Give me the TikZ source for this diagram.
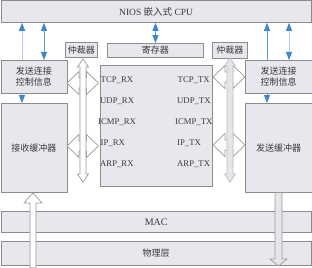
\documentclass[tikz,border=0pt]{standalone}
\usepackage{fontspec}
\setmainfont{Liberation Serif}
\newfontfamily\cjk{Noto Sans CJK SC}
\usetikzlibrary{arrows.meta,backgrounds}
\definecolor{boxfill}{HTML}{E6E8EE}
\definecolor{boxline}{HTML}{8C8C8C}
\definecolor{txt}{HTML}{3A3A3A}
\definecolor{bluehead}{HTML}{3B88CC}
\definecolor{blueline}{HTML}{5E9BD4}
\definecolor{paleblue}{HTML}{B4D0EC}
\definecolor{harrline}{HTML}{9A9A9A}
\definecolor{lightarr}{HTML}{E4E6EC}
\definecolor{lightarrline}{HTML}{BDBDBD}
\tikzset{
  blk/.style={draw=boxline, fill=boxfill, line width=0.8pt, inner sep=0pt, text=txt,
    font=\fontsize{9}{11}\selectfont, align=center},
  lbl/.style={inner sep=0pt, text=txt, font=\fontsize{8.7}{10}\selectfont},
  bluearr/.style={{Triangle[length=8pt,width=6pt,color=bluehead]}-{Triangle[length=8pt,width=6pt,color=bluehead]}, draw=blueline, line width=0.8pt},
  harr/.style={draw=harrline, fill=white, line width=0.7pt, line join=miter},
  varrL/.style={draw=harrline, fill=white, line width=0.7pt},
  varrR/.style={draw=lightarrline, fill=lightarr, line width=0.7pt},
}
\newcommand\hdarrow[4]{\path[#1] (#2,#4) -- (#2+12,#4-11.5) -- (#2+12,#4-5) -- (#3-12,#4-5) -- (#3-12,#4-11.5) -- (#3,#4) -- (#3-12,#4+11.5) -- (#3-12,#4+5) -- (#2+12,#4+5) -- (#2+12,#4+11.5) -- cycle;}
\newcommand\vdarrow[4]{\path[#1] (#2,#3) -- (#2+5.5,#3+8) -- (#2+3,#3+8) -- (#2+3,#4-8) -- (#2+5.5,#4-8) -- (#2,#4) -- (#2-5.5,#4-8) -- (#2-3,#4-8) -- (#2-3,#3+8) -- (#2-5.5,#3+8) -- cycle;}
\begin{document}
\begin{tikzpicture}[x=1pt,y=-1pt]
\useasboundingbox (0,0) rectangle (312,267);
% boxes
\node[blk, anchor=north west, minimum width=310.5pt, minimum height=21.5pt, font=\fontsize{9.5}{11}\selectfont] (cpu) at (0.5,0.5) {NIOS {\cjk 嵌入式} CPU};
\node[blk, anchor=north west, minimum width=66pt, minimum height=33pt] (lctl) at (0.5,60) {\cjk 发送连接\\\cjk 控制信息};
\node[blk, anchor=north west, minimum width=66pt, minimum height=89pt] (rbuf) at (0.5,103) {\cjk 接收缓冲器};
\node[blk, anchor=north west, minimum width=32pt, minimum height=15pt] (larb) at (65,42) {\cjk 仲裁器};
\node[blk, anchor=north west, minimum width=96pt, minimum height=14pt] (reg) at (107,43) {\cjk 寄存器};
\node[blk, anchor=north west, minimum width=35pt, minimum height=16pt] (rarb) at (212,42) {\cjk 仲裁器};
\node[blk, anchor=north west, minimum width=66.5pt, minimum height=33pt] (rctl) at (245,60) {\cjk 发送连接\\\cjk 控制信息};
\node[blk, anchor=north west, minimum width=66.5pt, minimum height=89pt] (sbuf) at (245,103) {\cjk 发送缓冲器};
\node[blk, anchor=north west, minimum width=112pt, minimum height=121pt] (cbox) at (100,65) {};
\node[blk, anchor=north west, minimum width=310.5pt, minimum height=21pt, font=\fontsize{10}{11}\selectfont] (mac) at (0.5,211) {MAC};
\node[blk, anchor=north west, minimum width=310.5pt, minimum height=24pt] (phy) at (0.5,241) {\cjk 物理层};
% labels in centre box
\node[lbl, anchor=west] (tcprx) at (100.5,80) {TCP\_RX};
\node[lbl, anchor=west] (udprx) at (100,101) {UDP\_RX};
\node[lbl, anchor=west] (icmprx) at (98,122) {ICMP\_RX};
\node[lbl, anchor=west] (iprx) at (100.5,143) {IP\_RX};
\node[lbl, anchor=west] (arprx) at (100,164) {ARP\_RX};
\node[lbl, anchor=west] (tcptx) at (177.5,80) {TCP\_TX};
\node[lbl, anchor=west] (udptx) at (177,101) {UDP\_TX};
\node[lbl, anchor=west] (icmptx) at (175,122) {ICMP\_TX};
\node[lbl, anchor=west] (iptx) at (177,143) {IP\_TX};
\node[lbl, anchor=west] (arptx) at (177,164) {ARP\_TX};
% blue connectors behind boxes
\coordinate (c1) at (22,0);
\coordinate (c2) at (44,0);
\coordinate (c3) at (155.5,0);
\coordinate (c4) at (267,0);
\coordinate (c5) at (289,0);
\begin{pgfonlayer}{background}
\draw[bluearr, draw=paleblue] (c1 |- cpu.south) -- (c1 |- rbuf.north);
\draw[bluearr] (c2 |- cpu.south) -- (c2 |- lctl.north);
\draw[bluearr] (c3 |- cpu.south) -- (c3 |- reg.north);
\draw[bluearr] (c4 |- cpu.south) -- (c4 |- sbuf.north);
\draw[bluearr, draw=paleblue] (c5 |- cpu.south) -- (c5 |- rctl.north);
\end{pgfonlayer}
% hollow block arrows
\hdarrow{harr}{67}{98.5}{83}
\hdarrow{harr}{67}{98.5}{146}
\hdarrow{harr}{213}{245}{77}
\hdarrow{harr}{213}{245}{145}
\vdarrow{varrL}{83}{59}{182}
\vdarrow{varrR}{230}{58}{182}
\path[harr] (33,193) -- (42,203) -- (36,203) -- (36,268) -- (30,268) -- (30,203) -- (24,203) -- cycle;
\path[varrR, draw=harrline] (275,192.5) -- (282,192.5) -- (282,259) -- (287,259) -- (278.5,266) -- (270,259) -- (275,259) -- cycle;
\end{tikzpicture}
\end{document}
